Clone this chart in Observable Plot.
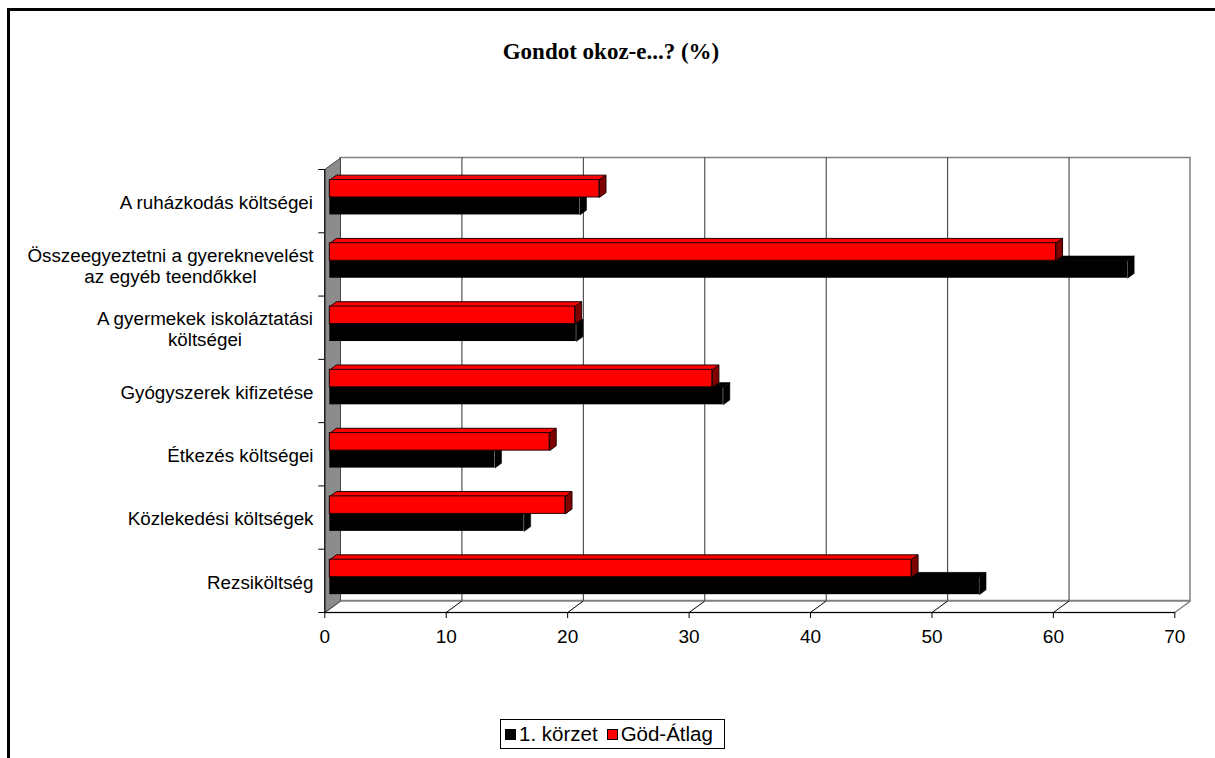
<!DOCTYPE html>
<html>
<head>
<meta charset="utf-8">
<script src="https://cdn.jsdelivr.net/npm/d3@7"></script>
<script src="https://cdn.jsdelivr.net/npm/@observablehq/plot@0.6"></script>
<style>
  html, body { margin: 0; padding: 0; background: #fff; overflow: hidden; width: 1215px; height: 758px; }
  #frame { position: absolute; left: 7px; top: 8px; width: 1300px; height: 900px; border: 3px solid #000; box-sizing: border-box; }
  #title { position: absolute; left: 611px; top: 52px; transform: translate(-50%, -50%); font-family: "Liberation Serif", "Times New Roman", serif; font-weight: bold; font-size: 23px; white-space: nowrap; color: #000; }
  #chart { position: absolute; left: 0; top: 140px; }
  #legend { position: absolute; left: 500px; top: 719px; width: 225px; height: 30px; box-sizing: border-box; border: 1px solid #000; display: flex; align-items: center; padding-left: 4px; font-family: "Liberation Sans", Arial, sans-serif; font-size: 20.5px; white-space: nowrap; background: #fff; }
  #legend .sw { width: 11px; height: 11px; border: 1px solid #000; box-sizing: border-box; display: inline-block; margin-right: 3px; }
  #legend .item { display: flex; align-items: center; margin-right: 9px; }
</style>
</head>
<body>
<div id="frame"></div>
<div id="title"></div>
<div id="chart"></div>
<div id="legend"></div>
<script>
// ---- data ----
const titleText = "Gondot okoz-e...? (%)";
const categories = [
  "A ruházkodás költségei",
  "Összeegyeztetni a gyereknevelést\naz egyéb teendőkkel",
  "A gyermekek iskoláztatási\nköltségei",
  "Gyógyszerek kifizetése",
  "Étkezés költségei",
  "Közlekedési költségek",
  "Rezsiköltség"
];
const korzet1 = [20.6, 65.7, 20.3, 32.4, 13.6, 16.0, 53.5];
const godAtlag = [22.2, 59.8, 20.2, 31.5, 18.1, 19.4, 47.9];
const seriesNames = ["1. körzet", "Göd-Átlag"];
const seriesColors = ["#000000", "#ff0000"];
const seriesSideColors = ["#000000", "#800000"];
const xTicks = [0, 10, 20, 30, 40, 50, 60, 70];

// ---- layout (pixels) ----
const W = 1215, H = 512, SVG_TOP = 140;
const X_LEFT = 324.3, X_RIGHT = 1174.3;
const FRONT_TOP = 169, FRONT_BOTTOM = 612;
const DEPTH_DX = 15.7, DEPTH_DY = 11.5;
const BAR_F1 = 0.32, BAR_F2 = 0.74, BAR_H = 17.5;
const xMax = 70, nCat = categories.length;
const pxX = (X_RIGHT - X_LEFT) / xMax;
const pxY = (FRONT_BOTTOM - FRONT_TOP) / nCat;
const du = DEPTH_DX / pxX, dv = DEPTH_DY / pxY;
const hb = BAR_H / pxY;
const bdx = (BAR_F2 - BAR_F1) * du, bdy = (BAR_F2 - BAR_F1) * dv;

document.getElementById("title").textContent = titleText;

function poly(id, pts) {
  const out = pts.map(([x, y]) => ({id, x, y}));
  out.push({id, x: pts[0][0], y: pts[0][1]});
  return out;
}

// walls
const leftWall = poly("lw", [[0, 0], [du, -dv], [du, nCat - dv], [0, nCat]]);
const floor = poly("fl", [[0, nCat], [xMax, nCat], [xMax + du, nCat - dv], [du, nCat - dv]]);

// bars
const fronts = [], tops = [[], []], sides = [[], []];
categories.forEach((c, i) => {
  const center = i + 0.5 - BAR_F1 * dv;
  const a = BAR_F1 * du;
  [korzet1[i], godAtlag[i]].forEach((v, s) => {
    const t = s === 1 ? center - hb : center;
    const bt = t + hb;
    const b = v + a;
    fronts.push({s, i, x1: a, x2: b, y1: t, y2: bt});
    tops[s].push(...poly(`t${s}-${i}`, [[a, t], [b, t], [b + bdx, t - bdy], [a + bdx, t - bdy]]));
    sides[s].push(...poly(`r${s}-${i}`, [[b, t], [b + bdx, t - bdy], [b + bdx, bt - bdy], [b, bt]]));
  });
});

const fontSans = "'Liberation Sans', Arial, sans-serif";
const labelSize = 18.8, tickSize = 19;
const ctx = document.createElement("canvas").getContext("2d");
ctx.font = `${labelSize}px 'Liberation Sans'`;
const labelRight = 313;

const marks = [
  // back wall
  Plot.rect([0], {x1: du, x2: xMax + du, y1: -dv, y2: nCat - dv, fill: "#fff", stroke: "#808080", strokeWidth: 1.5}),
  Plot.ruleX(xTicks.slice(1, -1), {x: d => d + du, y1: -dv, y2: nCat - dv, stroke: "#333", strokeWidth: 1}),
  // floor
  Plot.line(floor, {x: "x", y: "y", z: "id", fill: "#fff", stroke: "#808080", strokeWidth: 1.5, strokeLinejoin: "miter"}),
  Plot.link(xTicks.slice(1, -1), {x1: d => d, y1: nCat, x2: d => d + du, y2: nCat - dv, stroke: "#000", strokeWidth: 1}),
  // left wall
  Plot.line(leftWall, {x: "x", y: "y", z: "id", fill: "#8c8c8c", stroke: "#444", strokeWidth: 1, strokeLinejoin: "miter"}),
  // axes
  Plot.ruleY([nCat], {x1: 0, x2: xMax, stroke: "#000", strokeWidth: 1}),
  Plot.ruleX(xTicks, {x: d => d, y1: nCat, y2: nCat + 6 / pxY, stroke: "#000", strokeWidth: 1}),
  Plot.ruleX([0], {y1: 0, y2: nCat, stroke: "#000", strokeWidth: 1}),
  Plot.ruleY(d3.range(nCat + 1), {y: d => d, x1: -6 / pxX, x2: 0, stroke: "#000", strokeWidth: 1}),
  // black bars
  Plot.rect(fronts.filter(d => d.s === 0), {x1: "x1", x2: "x2", y1: "y1", y2: "y2", fill: seriesColors[0]}),
  Plot.line(tops[0], {x: "x", y: "y", z: "id", fill: seriesColors[0], stroke: seriesColors[0], strokeWidth: 0.5}),
  Plot.line(sides[0], {x: "x", y: "y", z: "id", fill: seriesSideColors[0], stroke: seriesColors[0], strokeWidth: 0.5}),
  // red bars
  Plot.line(tops[1], {x: "x", y: "y", z: "id", fill: seriesColors[1], stroke: "#200000", strokeWidth: 1, strokeLinejoin: "miter"}),
  Plot.line(sides[1], {x: "x", y: "y", z: "id", fill: seriesSideColors[1], stroke: "#200000", strokeWidth: 1, strokeLinejoin: "miter"}),
  Plot.rect(fronts.filter(d => d.s === 1), {x1: "x1", x2: "x2", y1: "y1", y2: "y2", fill: seriesColors[1], stroke: "#200000", strokeWidth: 1}),
  // x tick labels
  Plot.text(xTicks, {x: d => d, y: nCat, dy: 24.5, text: d => String(d), fontSize: tickSize, fontFamily: fontSans, fill: "#000", textAnchor: "middle", lineAnchor: "middle"}),
  // y labels
  ...categories.map((c, i) => {
    const w = d3.max(c.split("\n"), l => ctx.measureText(l).width);
    return Plot.text([c], {x: 0, y: i + 0.5, text: d => d, dy: 1, dx: -(X_LEFT - labelRight) - w / 2, textAnchor: "middle", lineAnchor: "middle", lineHeight: 1.12, fontSize: labelSize, fontFamily: fontSans, fill: "#000"});
  })
];

const chart = Plot.plot({
  width: W,
  height: H,
  margin: 0,
  x: {type: "linear", domain: [0, xMax], range: [X_LEFT, X_RIGHT], axis: null},
  y: {type: "linear", domain: [0, nCat], range: [FRONT_TOP - SVG_TOP, FRONT_BOTTOM - SVG_TOP], axis: null},
  style: {background: "transparent", overflow: "visible"},
  marks
});
document.getElementById("chart").appendChild(chart);

// legend
const legend = document.getElementById("legend");
seriesNames.forEach((n, s) => {
  const item = document.createElement("span");
  item.className = "item";
  const sw = document.createElement("span");
  sw.className = "sw";
  sw.style.background = seriesColors[s];
  item.appendChild(sw);
  item.appendChild(document.createTextNode(n));
  legend.appendChild(item);
});
</script>
</body>
</html>
